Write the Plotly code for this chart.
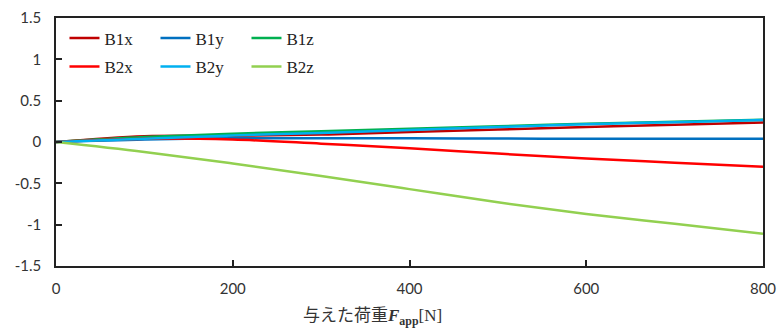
import plotly.graph_objects as go

load_N = [0, 100, 200, 300, 400, 500, 600, 700, 800]
B1x = [0, 0.07, 0.075, 0.09, 0.12, 0.15, 0.18, 0.21, 0.235]
B1y = [0, 0.03, 0.045, 0.045, 0.045, 0.042, 0.04, 0.04, 0.04]
B1z = [0, 0.06, 0.10, 0.13, 0.16, 0.19, 0.22, 0.245, 0.27]
B2x = [0, 0.04, 0.03, -0.02, -0.075, -0.14, -0.20, -0.25, -0.30]
B2y = [0, 0.04, 0.08, 0.11, 0.145, 0.18, 0.215, 0.24, 0.265]
B2z = [0, -0.12, -0.26, -0.41, -0.57, -0.73, -0.87, -0.99, -1.11]

series = [
    ("B1x", B1x, "#C00000", "legend"),
    ("B1y", B1y, "#0070C0", "legend"),
    ("B1z", B1z, "#00B050", "legend"),
    ("B2x", B2x, "#FF0000", "legend2"),
    ("B2y", B2y, "#00B0F0", "legend2"),
    ("B2z", B2z, "#92D050", "legend2"),
]

fig = go.Figure()
for name, ys, color, lg in series:
    fig.add_trace(go.Scatter(
        x=load_N, y=ys, name=name, mode="lines",
        line=dict(color=color, width=2.5, shape="spline", smoothing=1.0),
        legend=lg,
    ))

leg_common = dict(
    orientation="h", xanchor="left", yanchor="top",
    bgcolor="rgba(0,0,0,0)",
    font=dict(family="Liberation Serif", size=17, color="#222"),
    entrywidth=46, entrywidthmode="pixels",
    itemwidth=30,
)
fig.update_layout(
    width=779, height=328,
    margin=dict(l=56, r=16, t=18, b=62, autoexpand=False),
    plot_bgcolor="white", paper_bgcolor="white",
    showlegend=True,
    legend=dict(x=0.012, y=0.99, **leg_common),
    legend2=dict(x=0.012, y=0.875, **leg_common),
    xaxis=dict(
        range=[0, 800], tickvals=[0, 200, 400, 600, 800],
        ticks="inside", ticklen=6, tickwidth=1.5, tickcolor="#222",
        showline=True, linecolor="#222", linewidth=1.5, mirror=True,
        showgrid=False, zeroline=False, automargin=False,
        tickfont=dict(family="Lato", size=15, color="#333"),
        ticklabelstandoff=8,
    ),
    yaxis=dict(
        range=[-1.5, 1.5], tickvals=[-1.5, -1, -0.5, 0, 0.5, 1, 1.5],
        ticktext=["-1.5", "-1", "-0.5", "0", "0.5", "1", "1.5"],
        ticks="inside", ticklen=6, tickwidth=1.5, tickcolor="#222",
        showline=True, linecolor="#222", linewidth=1.5, mirror=True,
        showgrid=False, zeroline=False, automargin=False,
        tickfont=dict(family="Lato", size=15, color="#333"),
        ticklabelstandoff=10,
    ),
)

fig.add_annotation(
    xref="paper", yref="paper", x=0.448, y=-0.134, xanchor="center", yanchor="top",
    showarrow=False,
    text=("<span style=\"font-family:'Noto Sans CJK JP';font-size:17px\">与えた荷重</span>"
          "<b><i>F</i></b><sub><b>app</b></sub>[N]"),
    font=dict(family="Liberation Serif", size=17, color="#333"),
)

fig.write_html(
    "out.html",
    config={"displayModeBar": False},
    post_script="document.body.style.margin='0';document.body.style.overflow='hidden';",
)
